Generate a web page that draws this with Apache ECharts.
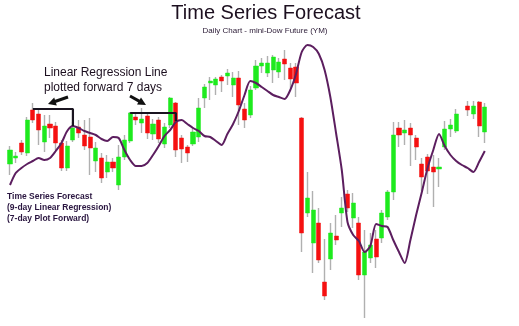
<!DOCTYPE html>
<html>
<head>
<meta charset="utf-8">
<script src="https://cdn.jsdelivr.net/npm/echarts@6/dist/echarts.min.js"></script>
<style>html,body{margin:0;padding:0;background:#fff}#c{width:519px;height:326px}</style>
</head>
<body>
<div id="c"></div>
<script>
// Relative price levels (84 trading days, one missing day)
const days = ['D1','D2','D3','D4','D5','D6','D7','D8','D9','D10','D11','D12','D13','D14','D15','D16','D17','D18','D19','D20','D21','D22','D23','D24','D25','D26','D27','D28','D29','D30','D31','D32','D33','D34','D35','D36','D37','D38','D39','D40','D41','D42','D43','D44','D45','D46','D47','D48','D49','D50','D51','D52','D53','D54','D55','D56','D57','D58','D59','D60','D61','D62','D63','D64','D65','D66','D67','D68','D69','D70','D71','D72','D73','D74','D75','D76','D77','D78','D79','D80','D81','D82','D83','D84'];
const open  = [186,192,207,197,240,236,208,226,224,207,182,210,223,215,213,189,192,178,188,165,193,209,233,227,234,216,230,206,225,247,212,203,206,213,252,267,265,273,274,265,272,241,235,262,284,277,280,278,291,282,283,232,137,107,127,68,91,114,137,156,132,127,75,92,111,112,133,158,222,217,222,212,186,193,183,181,203,221,219,null,244,236,248,218];
const close = [200,194,198,230,230,220,224,222,207,182,204,222,217,204,202,202,172,188,182,193,210,237,230,231,217,226,211,223,252,200,201,197,218,242,263,269,271,269,277,272,245,230,260,284,287,287,293,288,286,271,267,117,152,140,90,54,117,110,142,142,147,75,98,105,93,137,158,215,215,220,215,203,173,179,178,183,221,225,236,null,240,244,224,243];
const low   = [175,187,195,194,227,205,198,212,200,179,179,208,212,200,175,178,167,172,178,160,190,207,225,217,211,210,207,202,222,193,187,188,204,208,242,250,255,258,265,253,225,222,232,260,277,273,267,272,270,262,253,98,133,77,87,50,80,105,123,138,122,70,32,87,82,107,130,150,203,205,184,190,158,156,143,163,200,213,217,null,234,231,213,207];
const high  = [204,198,210,233,247,240,235,235,228,210,209,228,230,230,232,208,197,195,192,205,215,238,237,242,237,231,233,227,253,248,215,205,223,252,266,273,273,275,281,278,279,247,264,290,292,294,295,292,300,287,287,233,178,159,142,111,127,135,153,160,157,133,120,117,120,140,160,228,228,230,227,215,192,196,195,192,229,231,241,null,249,249,249,247];
const forecast = [165,177,182,186,189,192,190,192,199,207,219,224,222,219,217,215,211,209,213,212,200,190,184,184,187,195,204,214,220,228,230,226,222,219,214,213,209,205,216,226,239,255,269,267,263,259,255,253,251,260,276,298,305,303,296,280,253,217,180,128,115,109,98,104,126,124,123,110,98,87,110,135,158,182,200,216,204,195,189,185,182,178,188,199];
// Linear regression lines plotted forward 7 days: [day index, level]
const regression1 = [[4,241],[11,241],[11,224]];
const regression2 = [[21,237],[29,237],[29,229]];

const wickData = days.map((d,i)=> open[i]==null ? '-' : [open[i],close[i],low[i],high[i]]);
const bodyData = days.map((d,i)=> open[i]==null ? '-' : [open[i],close[i],Math.min(open[i],close[i]),Math.max(open[i],close[i])]);

const chart = echarts.init(document.getElementById('c'), null, {renderer:'canvas'});
const txt = '#1c0f1f';
chart.setOption({
  animation:false,
  backgroundColor:'#ffffff',
  grid:{left:7.14, top:0, width:480.5, height:326},
  xAxis:{type:'category', data:days, show:false, boundaryGap:true},
  yAxis:{type:'value', min:24, max:350, show:false},
  series:[
    {type:'candlestick', data:wickData, barWidth:1,
     itemStyle:{color:'#b0b0b0', color0:'#b0b0b0', borderColor:'#b0b0b0', borderColor0:'#b0b0b0', borderColorDoji:'#b0b0b0', borderWidth:1.4}, z:2},
    {type:'candlestick', data:bodyData, barWidth:4.6,
     itemStyle:{color:'#1eea1e', color0:'#f51010', borderColor:'#1eea1e', borderColor0:'#f51010', borderColorDoji:'#1eea1e', borderWidth:0.5}, z:3},
    {type:'line', data:forecast, smooth:0.25, symbol:'none', z:4,
     lineStyle:{color:'#5c1e5f', width:2}},
    {type:'line', data:regression1, symbol:'none', z:5, lineStyle:{color:'#1a1420', width:2.2}},
    {type:'line', data:regression2, symbol:'none', z:5, lineStyle:{color:'#1a1420', width:2.2}}
  ],
  graphic:[
    {type:'text', x:266, y:13, style:{text:'Time Series Forecast', fill:txt, font:'20px "Liberation Sans", Arial, sans-serif', textAlign:'center', textVerticalAlign:'middle'}},
    {type:'text', x:265, y:31, style:{text:'Daily Chart - mini-Dow Future (YM)', fill:'#2a1a35', font:'8px "Liberation Sans", Arial, sans-serif', textAlign:'center', textVerticalAlign:'middle'}},
    {type:'text', x:44, y:73, style:{text:'Linear Regression Line', fill:txt, font:'12px "Liberation Sans", Arial, sans-serif', textAlign:'left', textVerticalAlign:'middle'}},
    {type:'text', x:44, y:88, style:{text:'plotted forward 7 days', fill:txt, font:'12px "Liberation Sans", Arial, sans-serif', textAlign:'left', textVerticalAlign:'middle'}},
    {type:'text', x:7, y:197, style:{text:'Time Series Forecast', fill:'#2a1640', font:'bold 8.5px "Liberation Sans", Arial, sans-serif', textAlign:'left', textVerticalAlign:'middle'}},
    {type:'text', x:7, y:208, style:{text:'(9-day Linear Regression)', fill:'#2a1640', font:'bold 8.5px "Liberation Sans", Arial, sans-serif', textAlign:'left', textVerticalAlign:'middle'}},
    {type:'text', x:7, y:219, style:{text:'(7-day Plot Forward)', fill:'#2a1640', font:'bold 8.5px "Liberation Sans", Arial, sans-serif', textAlign:'left', textVerticalAlign:'middle'}},
    {type:'polyline', shape:{points:[[68,97],[55,101.5]]}, style:{stroke:'#111', lineWidth:3}, z:10},
    {type:'polygon', shape:{points:[[48,104],[54.2,97.4],[56.8,105.4]]}, style:{fill:'#111'}, z:10},
    {type:'polyline', shape:{points:[[130,96],[140,101.6]]}, style:{stroke:'#111', lineWidth:3}, z:10},
    {type:'polygon', shape:{points:[[146,105],[137,104.6],[141,97.6]]}, style:{fill:'#111'}, z:10}
  ]
});
</script>
</body>
</html>
